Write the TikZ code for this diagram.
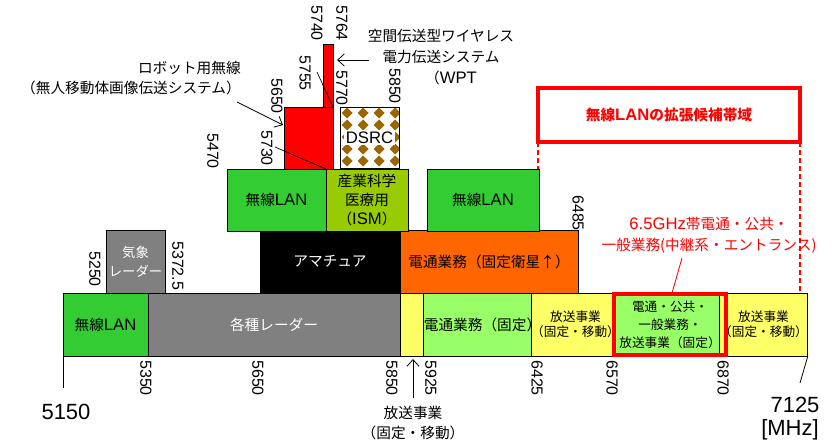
\documentclass[tikz,border=0pt]{standalone}
\usepackage{fontspec}
\setmainfont{Liberation Sans}
\newfontfamily\jp{Noto Sans CJK JP}
\usetikzlibrary{arrows.meta,calc}
\definecolor{wgreen}{HTML}{33CC33}
\definecolor{ismgreen}{HTML}{99CC00}
\definecolor{lgreen}{HTML}{99FF66}
\definecolor{byellow}{HTML}{FFFF66}
\definecolor{rgray}{HTML}{808080}
\definecolor{sorange}{HTML}{FF6600}
\definecolor{dsrcbrown}{HTML}{996600}
\newcommand{\bandat}[7]{\node[band,#1,minimum width={(#5-#3)*0.75pt},minimum height={(#6-#4)*0.75pt}] (#2) at ({(#3+#5)/2},{(#4+#6)/2}) {#7};}
\newcommand{\lat}[1]{{\rmfamily\fontsize{12.5}{14}\selectfont #1}}
\tikzset{
  band/.style={draw=black, line width=0.6pt, inner sep=0pt, outer sep=0pt, align=center, font=\jp\fontsize{11}{14.5}\selectfont},
  smallband/.style={font=\jp\fontsize{9.5}{11.5}\selectfont},
  jptxt/.style={font=\jp\fontsize{11}{15.5}\selectfont, inner sep=0pt},
  freq/.style={rotate=-90, anchor=west, inner sep=0pt, font=\fontsize{12}{14}\selectfont},
  lead/.style={draw=black, line width=0.5pt},
  pointer/.style={draw=black, line width=0.6pt, -{Straight Barb[length=5pt,width=9pt]}},
}
\begin{document}
\begin{tikzpicture}[x=0.75pt,y=-0.75pt]
\useasboundingbox (0,0) rectangle (834,443);
% bottom row
\bandat{fill=wgreen}{wlan0}{63}{293}{148}{356}{無線\lat{LAN}}
\bandat{fill=rgray,text=white}{radar}{148}{293}{400}{356}{各種レーダー}
\bandat{fill=byellow}{bcast1}{400}{293}{427}{356}{}
\bandat{fill=lgreen}{fixed}{427}{293}{538}{356}{電通業務（固定）}
\bandat{fill=byellow,smallband}{bcast2}{538}{293}{613}{356}{放送事業\\（固定・移動）}
\bandat{fill=lgreen,smallband,font=\jp\fontsize{9.5}{13.5}\selectfont}{pub}{613}{293}{727}{356}{電通・公共・\\一般業務・\\放送事業（固定）}
\bandat{fill=byellow,smallband}{bcast3}{727}{293}{800}{356}{放送事業\\（固定・移動）}
\draw[red, line width=2.8pt] ($(pub.north west)+(1,1)$) rectangle ($(pub.south east)+(-1,-1)$);
% second row
\bandat{fill=rgray,text=white,font=\jp\fontsize{10}{14}\selectfont}{wradar}{106}{230}{165}{293}{気象\\レーダー}
\bandat{fill=black,text=white}{ham}{260}{230}{400}{293}{アマチュア}
\bandat{fill=sorange}{sat}{400}{230}{578}{293}{電通業務（固定衛星↑）}
% third row
\bandat{fill=wgreen}{wlan1}{227}{169}{326}{231}{無線\lat{LAN}}
\bandat{fill=ismgreen}{ism}{326}{169}{408}{231}{産業科学\\医療用\\（\lat{ISM}）}
\bandat{fill=wgreen}{wlan2}{427}{169}{539}{231}{無線\lat{LAN}}
% top
\bandat{fill=red}{robot}{284}{107}{333}{169}{}
\bandat{fill=red}{wpt}{323}{44}{333}{107}{}
\begin{scope}
  \clip (340,107) rectangle (399,168);
  \foreach \cx in {347,363,379,395} \foreach \cy in {113,125,137,149,161}
    {\fill[dsrcbrown] (\cx,\cy-5.5) -- (\cx+5.5,\cy) -- (\cx,\cy+5.5) -- (\cx-5.5,\cy) -- cycle;}
\end{scope}
\bandat{}{dsrc}{340}{107}{399}{168}{}
\node[fill=white, inner sep=1.5pt, font=\fontsize{12.5}{14}\selectfont] (dsrclabel) at (dsrc.center) {DSRC};
% candidate band
\bandat{draw=red,line width=2.3pt,text=red,font=\jp\bfseries\fontsize{11}{14}\selectfont}{cand}{538}{88}{800}{142}{無線\lat{\bfseries LAN}の拡張候補帯域}
\draw[red, line width=1.3pt, dash pattern=on 4pt off 2pt] (cand.south west) -- (cand.south west |- wlan2.north);
\draw[red, line width=1.3pt, dash pattern=on 4pt off 2pt] (cand.south east) -- (cand.south east |- bcast3.north);
% axis
\coordinate (axlo) at (63,388);
\coordinate (axhi) at (800,383);
\draw[line width=0.6pt] (wlan0.south west) -- (axlo);
\draw[line width=0.6pt] (bcast3.south east) -- (axhi);
\node[font=\fontsize{16.5}{18}\selectfont] (lo) at (66,412) {5150};
\node[font=\fontsize{16.5}{18}\selectfont] (hi) at (795,405) {7125};
\node[font=\fontsize{16.5}{18}\selectfont] (unit) at (790,430) {[MHz]};
% frequency labels
\node[freq] (f5350) at (146,360) {5350};
\node[freq] (f5650) at (258,360) {5650};
\node[freq] (f5850) at (392,360) {5850};
\node[freq] (f5925) at (431,360) {5925};
\node[freq] (f6425) at (537,360) {6425};
\node[freq] (f6570) at (612,360) {6570};
\node[freq] (f6870) at (723,360) {6870};
\node[freq] (f5250) at (95,251) {5250};
\node[freq] (f5372) at (178,241) {5372.5};
\node[freq] (f6485) at (578,195) {6485};
\node[freq] (f5470) at (213,133) {5470};
\node[freq] (f5730) at (267,130) {5730};
\node[freq] (f5650b) at (277,78) {5650};
\node[freq] (f5755) at (305,55) {5755};
\node[freq] (f5740) at (317,5) {5740};
\node[freq] (f5764) at (342,5) {5764};
\node[freq] (f5770) at (342,70) {5770};
\node[freq] (f5850b) at (395,68) {5850};
% leaders
\coordinate (l5755) at (317,72);
\coordinate (l5730) at (275,147);
\draw[lead] (l5755) -- (robot.north east);
\draw[lead] (l5730) -- (ism.north west);
% robot label
\node[jptxt, align=right, anchor=east] (robottext) at (241,78) {ロボット用無線\\（無人移動体画像伝送システム）};
\coordinate (robottail) at (237,102);
\coordinate (robothead) at (283,125);
\draw[pointer] (robottail) -- (robothead);
% WPT label
\node[jptxt, align=center] (wpttext) at (441,57) {空間伝送型ワイヤレス\\電力伝送システム\\\hspace*{15pt}（\lat{WPT}};
\coordinate (wpttail) at (369,60);
\coordinate (wpthead) at (337,60);
\draw[pointer] (wpttail) -- (wpthead);
% broadcast label
\node[jptxt, align=center, font=\jp\fontsize{11}{14.5}\selectfont] (bctext) at (413,423) {放送事業\\（固定・移動）};
\coordinate (bctail) at (413,398);
\coordinate (bchead) at (413,359);
\draw[pointer] (bctail) -- (bchead);
% 6.5GHz label
\node[jptxt, align=center, text=red] (sixtext) at (709,235) {\lat{6.5GHz}帯電通・公共・\\一般業務(中継系・エントランス)};
\coordinate (sixtail) at (682,258);
\draw[red, line width=0.6pt] (sixtail) -- (pub.north -| 672,0);
\end{tikzpicture}
\end{document}
